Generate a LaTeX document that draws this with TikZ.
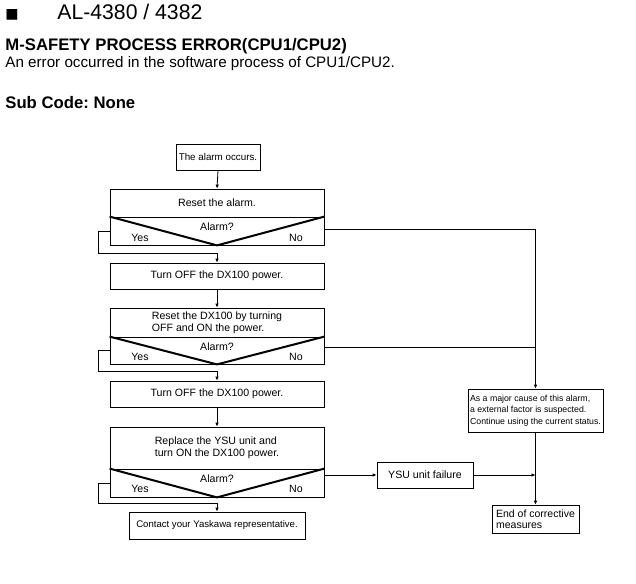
\documentclass[tikz,border=0pt]{standalone}
\usepackage{fontspec}
\setmainfont{Liberation Sans}
\newfontfamily\symfont{DejaVu Sans}
\usetikzlibrary{arrows.meta}
\frenchspacing
\begin{document}
\begin{tikzpicture}[x=1pt,y=-1pt,
  line width=0.8pt,
  arr/.style={-{Latex[length=4pt,width=3.6pt]}},
  box/.style={draw, line width=0.8pt, inner sep=0pt, align=center,
    font=\fontsize{10.6}{12}\selectfont},
  lbl/.style={inner sep=0pt, font=\fontsize{10.6}{12}\selectfont},
  vee/.style={line width=2pt},
  hdr/.style={inner sep=0pt, anchor=base west}]
\useasboundingbox (0,0) rectangle (636,583);

% header
\node[hdr, font=\symfont\fontsize{14}{14}\selectfont] (sq) at (5,19) {■};
\node[hdr, font=\fontsize{21.2}{24}\selectfont] (ttl) at (57,20) {AL-4380 / 4382};
\node[hdr, font=\bfseries\fontsize{16.7}{20}\selectfont] (hd) at (5,51) {M-SAFETY PROCESS ERROR(CPU1/CPU2)};
\node[hdr, font=\fontsize{15.2}{18}\selectfont] (desc) at (5,68) {An error occurred in the software process of CPU1/CPU2.};
\node[hdr, font=\bfseries\fontsize{16.7}{20}\selectfont] (sub) at (5,108) {Sub Code: None};

% main column
\node[box, minimum width=84, minimum height=26, font=\fontsize{9.8}{12}\selectfont] (start) at (218,157) {The alarm occurs.};

\node[box, minimum width=214, minimum height=28] (r1) at (217,203) {Reset the alarm.};
\node[box, minimum width=214, minimum height=28] (d1) at (217,231) {};
\draw[vee] (d1.north west) -- (d1.south) -- (d1.north east);
\node[lbl] (a1) at ([yshift=4pt]d1.center) {Alarm?};
\node[lbl] (y1) at ([xshift=-77pt,yshift=-7pt]d1.center) {Yes};
\node[lbl] (n1) at ([xshift=79pt,yshift=-7pt]d1.center) {No};

\node[box, minimum width=214, minimum height=26] (t1) at (217,276) {Turn OFF the DX100 power.};

\node[box, minimum width=214, minimum height=29, align=left] (r2) at (217,322.5) {Reset the DX100 by turning\\OFF and ON the power.};
\node[box, minimum width=214, minimum height=27] (d2) at (217,350.5) {};
\draw[vee] (d2.north west) -- (d2.south) -- (d2.north east);
\node[lbl] (a2) at ([yshift=4pt]d2.center) {Alarm?};
\node[lbl] (y2) at ([xshift=-77pt,yshift=-6pt]d2.center) {Yes};
\node[lbl] (n2) at ([xshift=79pt,yshift=-6pt]d2.center) {No};

\node[box, minimum width=214, minimum height=26] (t2) at (217,394) {Turn OFF the DX100 power.};

\node[box, minimum width=214, minimum height=42, align=left] (r3) at (217,448) {Replace the YSU unit and\\turn ON the DX100 power.};
\node[box, minimum width=214, minimum height=28] (d3) at (217,483) {};
\draw[vee] (d3.north west) -- (d3.south) -- (d3.north east);
\node[lbl] (a3) at ([yshift=4pt]d3.center) {Alarm?};
\node[lbl] (y3) at ([xshift=-77pt,yshift=-6pt]d3.center) {Yes};
\node[lbl] (n3) at ([xshift=79pt,yshift=-6pt]d3.center) {No};

\node[box, minimum width=176, minimum height=27, font=\fontsize{9.6}{12}\selectfont] (contact) at (217,525.5) {Contact your Yaskawa representative.};

% right column
\node[box, minimum height=43, align=left, inner xsep=2.1pt,
  font=\fontsize{8.75}{11.5}\selectfont] (cause) at (535.5,410.5)
  {As a major cause of this alarm,\\a external factor is suspected.\\Continue using the current status.};
\node[box, minimum width=96, minimum height=26] (ysu) at (425,475) {YSU unit failure};
\node[box, minimum height=28, align=left, inner xsep=4.1pt,
  font=\fontsize{10.5}{11.5}\selectfont] (end) at (535.5,519) {End of corrective\\measures};

% connectors
\coordinate (j1) at (217,253);
\coordinate (j2) at (217,371.5);
\coordinate (j3) at (217,503);

\draw[arr] (start.south) -- (r1.north);
\draw[arr] (d1.west) -- ++(-11,0) |- (j1) -- (t1.north);
\draw[arr] (t1.south) -- (r2.north);
\draw[arr] (d2.west) -- ++(-11,0) |- (j2) -- (t2.north);
\draw[arr] (t2.south) -- (r3.north);
\draw[arr] (d3.west) -- ++(-11,0) |- (j3) -- (contact.north);

\draw[arr] ([yshift=2pt]d1.east) -| (cause.north);
\draw ([yshift=3.5pt]d2.east) coordinate (m2) -- (m2 -| cause.north);
\draw[arr] (d3.east |- ysu.west) -- (ysu.west);
\draw[arr] (ysu.east) -- (ysu.east -| cause.south);
\draw[arr] (cause.south) -- (cause.south |- end.north);
\end{tikzpicture}
\end{document}
